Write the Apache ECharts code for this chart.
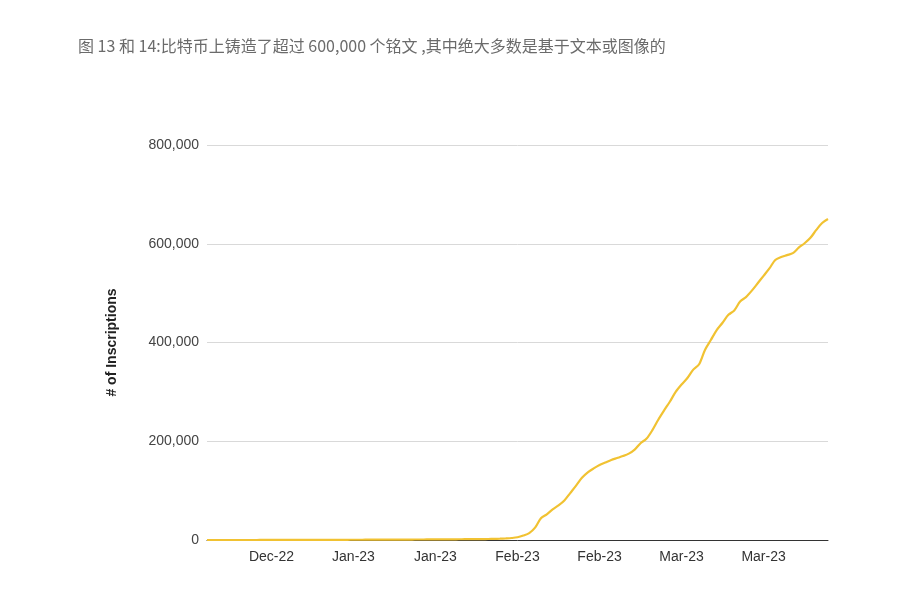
<!DOCTYPE html>
<html>
<head>
<meta charset="utf-8">
<script src="https://cdn.jsdelivr.net/npm/echarts@6/dist/echarts.min.js"></script>
<style>
html,body{margin:0;padding:0;background:#fff;}
#chart{width:914px;height:592px;}
</style>
</head>
<body>
<div id="chart"></div>
<script>
// Daily dates, 2022-12-10 .. 2023-03-26
const startDate = '2022-12-10';
const dayCount = 107;
const monthNames = ['Jan','Feb','Mar','Apr','May','Jun','Jul','Aug','Sep','Oct','Nov','Dec'];
const tickIndices = [11, 25, 39, 53, 67, 81, 95];
const yTicks = [0, 200000, 400000, 600000, 800000];

// cumulative inscriptions
const inscriptions = [
  0,0,0,0,0,10,20,30,40,60,
  80,100,120,140,160,180,200,220,250,280,
  300,330,360,400,440,480,520,560,600,650,
  700,750,800,850,900,950,1000,1050,1100,1150,
  1200,1300,1400,1500,1600,1700,1800,1900,2000,2200,
  2600,3200,4000,5500,9000,14000,25000,44000,52000,62000,
  70000,80000,95000,110000,126000,137000,145000,152000,157000,162000,
  166000,170000,175000,183000,196000,205000,222000,243000,262000,280000,
  300000,315000,328000,345000,356000,385000,405000,425000,440000,456000,
  465000,483000,492000,505000,520000,535000,550000,567000,573000,577000,
  581000,592000,601000,612000,628000,642000,650000
];

const categories = [];
{
  const d0 = new Date(startDate + 'T00:00:00Z');
  for (let i = 0; i < dayCount; i++) {
    const d = new Date(d0.getTime() + i * 86400000);
    categories.push(d.toISOString().slice(0, 10));
  }
}
function fmtMonth(s) {
  const [y, m] = s.split('-');
  return monthNames[parseInt(m, 10) - 1] + '-' + y.slice(2);
}

const chart = echarts.init(document.getElementById('chart'));
chart.setOption({
  animation: false,
  backgroundColor: '#ffffff',
  title: {
    text: '图 13 和 14:比特币上铸造了超过 600,000 个铭文 ,其中绝大多数是基于文本或图像的',
    left: 73,
    top: 33,
    textStyle: {
      fontFamily: 'Noto Sans CJK SC',
      fontSize: 16,
      fontWeight: 'normal',
      color: '#6b6b6b'
    }
  },
  grid: { left: 207, right: 86, top: 145, bottom: 52, containLabel: false },
  xAxis: {
    type: 'category',
    data: categories,
    boundaryGap: false,
    axisLine: { show: true, lineStyle: { color: '#333', width: 1 } },
    axisTick: { show: false },
    splitLine: { show: false },
    axisLabel: {
      interval: (idx) => tickIndices.includes(idx),
      formatter: (v) => fmtMonth(v),
      fontFamily: 'Liberation Sans',
      fontSize: 14,
      color: '#333',
      margin: 10
    }
  },
  yAxis: {
    type: 'value',
    min: yTicks[0],
    max: yTicks[yTicks.length - 1],
    interval: 200000,
    name: '# of Inscriptions',
    nameLocation: 'middle',
    nameRotate: 90,
    nameGap: 88,
    nameTextStyle: {
      fontFamily: 'Liberation Sans',
      fontSize: 14,
      fontWeight: 'bold',
      color: '#222',
      padding: [0, 0, 0, 0]
    },
    axisLine: { show: false },
    axisTick: { show: false },
    splitLine: { lineStyle: { color: '#d9d9d9', width: 1 } },
    axisLabel: {
      formatter: (v) => v.toLocaleString('en-US'),
      fontFamily: 'Liberation Sans',
      fontSize: 14,
      color: '#444',
      margin: 8
    }
  },
  series: [{
    type: 'line',
    data: inscriptions,
    showSymbol: false,
    smooth: 0.3,
    lineStyle: { color: '#f1c232', width: 2.2 },
    itemStyle: { color: '#f1c232' }
  }]
});
</script>
</body>
</html>
